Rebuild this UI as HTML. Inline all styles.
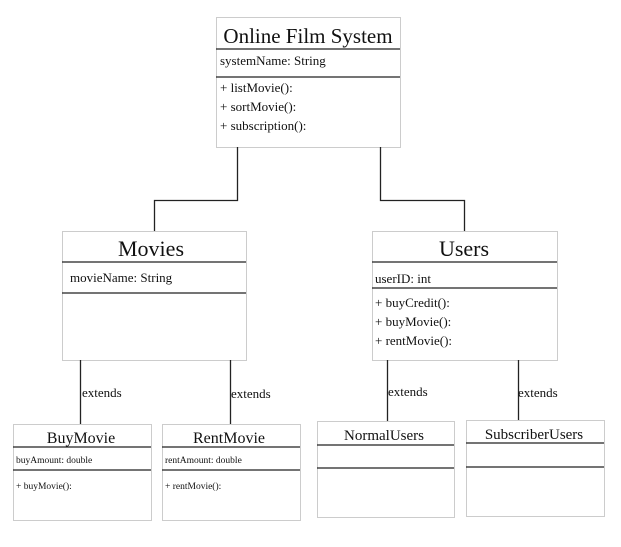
<!DOCTYPE html>
<html><head><style>html,body{margin:0;padding:0;background:#fff}svg{display:block}</style></head><body>
<svg width="621" height="547" xmlns="http://www.w3.org/2000/svg" font-family="Liberation Serif, serif" fill="#111">
<g fill="none" stroke="#ccc" stroke-width="1">
<rect x="216.5" y="17.5" width="184" height="130"/>
<rect x="62.5" y="231.5" width="184" height="129"/>
<rect x="372.5" y="231.5" width="185" height="129"/>
<rect x="13.5" y="424.5" width="138" height="96"/>
<rect x="162.5" y="424.5" width="138" height="96"/>
<rect x="317.5" y="421.5" width="137" height="96"/>
<rect x="466.5" y="420.5" width="138" height="96"/>
</g>
<g stroke="#222" stroke-width="1.3" fill="none">
<line x1="216" y1="49" x2="400" y2="49"/><line x1="216" y1="77" x2="400" y2="77"/>
<line x1="62" y1="262" x2="246" y2="262"/><line x1="62" y1="293" x2="246" y2="293"/>
<line x1="372" y1="262" x2="557" y2="262"/><line x1="372" y1="288" x2="557" y2="288"/>
<line x1="13" y1="447" x2="151" y2="447"/><line x1="13" y1="470" x2="151" y2="470"/>
<line x1="162" y1="447" x2="300" y2="447"/><line x1="162" y1="470" x2="300" y2="470"/>
<line x1="317" y1="445" x2="454" y2="445"/><line x1="317" y1="468" x2="454" y2="468"/>
<line x1="466" y1="443" x2="604" y2="443"/><line x1="466" y1="467" x2="604" y2="467"/>
<polyline points="237.5,147 237.5,200.5 154.5,200.5 154.5,231"/>
<polyline points="380.5,147 380.5,200.5 464.5,200.5 464.5,231"/>
<line x1="80.5" y1="360" x2="80.5" y2="424"/>
<line x1="230.5" y1="360" x2="230.5" y2="424"/>
<line x1="387.5" y1="360" x2="387.5" y2="421"/>
<line x1="518.5" y1="360" x2="518.5" y2="420"/>
</g>
<text x="308" y="43" font-size="21" text-anchor="middle">Online Film System</text>
<text x="220" y="65" font-size="13">systemName: String</text>
<text x="220" y="92" font-size="13">+ listMovie():</text>
<text x="220" y="111" font-size="13">+ sortMovie():</text>
<text x="220" y="130" font-size="13">+ subscription():</text>
<text x="151" y="256" font-size="22" text-anchor="middle">Movies</text>
<text x="70" y="282" font-size="13">movieName: String</text>
<text x="464" y="256" font-size="22" text-anchor="middle">Users</text>
<text x="375" y="283" font-size="13">userID: int</text>
<text x="375" y="307" font-size="13">+ buyCredit():</text>
<text x="375" y="326" font-size="13">+ buyMovie():</text>
<text x="375" y="345" font-size="13">+ rentMovie():</text>
<text x="82" y="397" font-size="13">extends</text>
<text x="231" y="398" font-size="13">extends</text>
<text x="388" y="396" font-size="13">extends</text>
<text x="518" y="397" font-size="13">extends</text>
<text x="81" y="443" font-size="16" text-anchor="middle">BuyMovie</text>
<text x="16" y="463" font-size="9.5">buyAmount: double</text>
<text x="16" y="489" font-size="9.5">+ buyMovie():</text>
<text x="229" y="443" font-size="16" text-anchor="middle">RentMovie</text>
<text x="165" y="463" font-size="9.5">rentAmount: double</text>
<text x="165" y="489" font-size="9.5">+ rentMovie():</text>
<text x="384" y="440" font-size="15" text-anchor="middle">NormalUsers</text>
<text x="534" y="439" font-size="15" text-anchor="middle">SubscriberUsers</text>
</svg>
</body></html>
